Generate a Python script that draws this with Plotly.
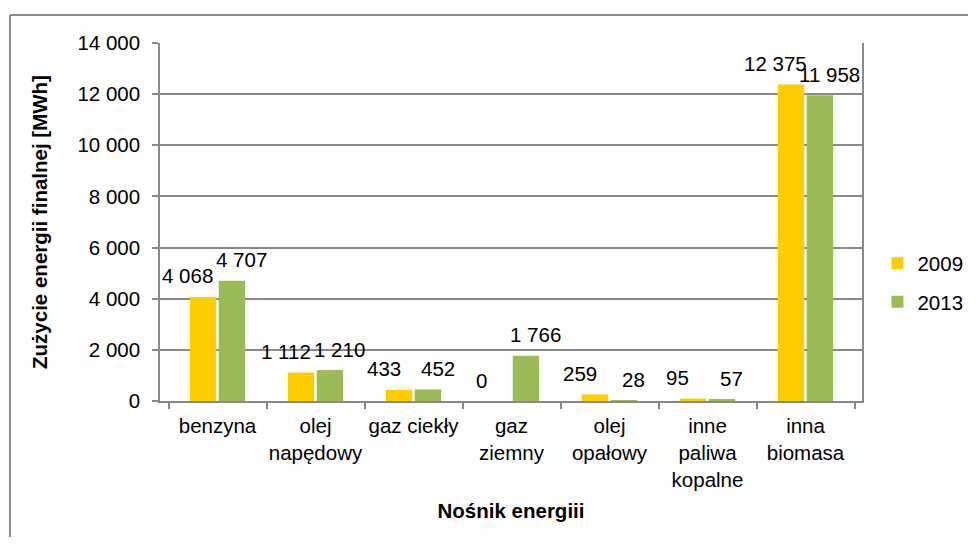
import plotly.graph_objects as go

categories = ["benzyna", "olej<br>napędowy", "gaz ciekły", "gaz<br>ziemny",
              "olej<br>opałowy", "inne<br>paliwa<br>kopalne", "inna<br>biomasa"]
series_names = ["2009", "2013"]
values_2009 = [4068, 1112, 433, 0, 259, 95, 12375]
values_2013 = [4707, 1210, 452, 1766, 28, 57, 11958]
y_ticks = [0, 2000, 4000, 6000, 8000, 10000, 12000, 14000]

colors = {"2009": "#FFCC00", "2013": "#9BBB59"}
label_shift = {"2009": -30, "2013": 24}
FONT = "Arial, Liberation Sans, sans-serif"
FS = 20.5
GRAY = "#898989"


def fmt(v):
    return f"{v:,}".replace(",", " ")


fig = go.Figure()
for name, vals in zip(series_names, [values_2009, values_2013]):
    fig.add_trace(go.Bar(
        x=categories, y=vals, name=name,
        marker=dict(color=colors[name], line=dict(width=0)),
        legendgroup=name,
    ))

annotations = []
for name, vals in zip(series_names, [values_2009, values_2013]):
    for c, v in zip(categories, vals):
        annotations.append(dict(
            x=c, y=v, xref="x", yref="y", text=fmt(v), showarrow=False,
            xshift=label_shift[name], yshift=21, yanchor="middle", xanchor="center",
            font=dict(family=FONT, size=FS, color="#000000"),
        ))

fig.update_layout(
    width=960, height=529,
    margin=dict(l=152, r=106, t=35, b=136, autoexpand=False),
    paper_bgcolor="white", plot_bgcolor="white",
    separators=", ",
    font=dict(family=FONT, size=FS, color="#000000"),
    barmode="group", bargap=0.41, bargroupgap=0.085,
    showlegend=True,
    legend=dict(x=1.022, xanchor="left", y=0.33, yanchor="middle",
                traceorder="grouped", tracegroupgap=9,
                font=dict(family=FONT, size=FS), itemwidth=30,
                bgcolor="rgba(0,0,0,0)"),
    annotations=annotations,
    shapes=[
        dict(type="line", xref="paper", yref="paper", x0=-0.2137, x1=1.3,
             y0=1.0782, y1=1.0782, line=dict(color="#8c8c8c", width=2)),
        dict(type="line", xref="paper", yref="paper", x0=-0.2137, x1=-0.2137,
             y0=1.0782, y1=-0.5, line=dict(color="#8c8c8c", width=2)),
    ],
)

fig.update_xaxes(
    type="category", tickson="boundaries", ticks="outside", ticklen=6,
    tickcolor=GRAY, tickwidth=1.5, tickangle=0, automargin=False,
    showline=True, linecolor=GRAY, linewidth=1.5,
    showgrid=False, ticklabelstandoff=6,
    tickfont=dict(family=FONT, size=FS),
    title=dict(text="<b>Nośnik energiii</b>", font=dict(family=FONT, size=FS), standoff=14),
)
fig.update_yaxes(
    range=[0, 14000], tickvals=y_ticks, tickformat=",d", automargin=False,
    ticks="outside", ticklen=6, tickcolor=GRAY, tickwidth=1.5,
    showline=True, linecolor=GRAY, linewidth=1.5, mirror=True,
    showgrid=True, gridcolor=GRAY, gridwidth=1.5,
    zeroline=False,
    ticklabelstandoff=8,
    tickfont=dict(family=FONT, size=FS),
    title=dict(text="<b>Zużycie energii finalnej [MWh]</b>", font=dict(family=FONT, size=FS), standoff=24),
)

fig.write_html("out.html")
